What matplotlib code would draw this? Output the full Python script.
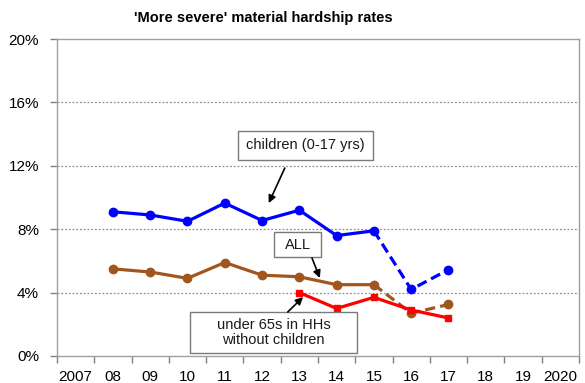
import matplotlib
matplotlib.use("Agg")
import matplotlib.pyplot as plt
from matplotlib.patches import Rectangle
import numpy as np

plt.rcParams['font.family'] = ['Liberation Sans', 'DejaVu Sans']

# Category axis: survey years
year_labels = ["2007", "08", "09", "10", "11", "12", "13", "14", "15", "16", "17", "18", "19", "2020"]

# 'More severe' material hardship rates (%)
children_years = ["08", "09", "10", "11", "12", "13", "14", "15", "16", "17"]
children = [9.1, 8.9, 8.5, 9.65, 8.55, 9.2, 7.6, 7.9, 4.2, 5.45]

all_years = ["08", "09", "10", "11", "12", "13", "14", "15", "16", "17"]
all_people = [5.5, 5.3, 4.9, 5.9, 5.1, 5.0, 4.5, 4.5, 2.7, 3.25]

u65_years = ["13", "14", "15", "16", "17"]
under65_no_kids = [4.0, 3.0, 3.7, 2.9, 2.4]

# the last two survey years are drawn dashed for the two long series
n_dashed = 2

pos = {lab: i for i, lab in enumerate(year_labels)}

fig = plt.figure(figsize=(5.85, 3.83), dpi=100)
ax = fig.add_axes([0.0974, 0.0705, 0.8923, 0.8275])

def plot_series(years, vals, color, marker, ms, dashed):
    x = np.array([pos[y] for y in years])
    v = np.array(vals)
    if dashed:
        k = len(x) - n_dashed
        ax.plot(x[:k], v[:k], color=color, lw=2.3, marker=marker, ms=ms, zorder=3)
        ax.plot(x[k - 1:], v[k - 1:], color=color, lw=2.3, ls=(0, (3.2, 1.6)),
                marker=None, zorder=3)
        ax.plot(x[k:], v[k:], color=color, lw=0, marker=marker, ms=ms, zorder=3)
    else:
        ax.plot(x, v, color=color, lw=2.3, marker=marker, ms=ms, zorder=3)

plot_series(children_years, children, "#0000FF", "o", 6, True)
plot_series(all_years, all_people, "#A0561E", "o", 6, True)
plot_series(u65_years, under65_no_kids, "#FF0000", "s", 4, False)

ax.set_xlim(-0.5, len(year_labels) - 0.5)
ax.set_ylim(0, 20)
ax.set_yticks([0, 4, 8, 12, 16, 20])
ax.set_yticklabels([f"{v}%" for v in [0, 4, 8, 12, 16, 20]])
ax.set_xticks(range(len(year_labels)))
ax.set_xticklabels(year_labels)
ax.set_xticks(np.arange(-0.5, len(year_labels) - 0.4, 1.0), minor=True)
ax.tick_params(axis='x', which='major', length=0, labelsize=11, pad=10, colors="#000000")
ax.tick_params(axis='x', which='minor', length=5, width=1, color="#808080", direction='out')
ax.tick_params(axis='y', length=5, width=1, color="#808080", labelsize=11, pad=8)

for v in [4, 8, 12, 16]:
    ax.axhline(v, color="#909090", lw=0.9, ls=(0, (1.5, 1.5)), zorder=1)

for s in ax.spines.values():
    s.set_color("#A0A0A0")
    s.set_linewidth(1.0)

fig.text(0.45, 0.953, "'More severe' material hardship rates", fontsize=10.5,
         fontweight='bold', ha="center", va="center")

# Label boxes (x0, y0, x1, y1 in data units) with their text
labels = [
    ("children (0-17 yrs)", (4.35, 12.37, 7.97, 14.2)),
    ("ALL", (5.32, 6.25, 6.58, 7.82)),
    ("under 65s in HHs\nwithout children", (3.07, 0.19, 7.54, 2.78)),
]
for text, (x0, y0, x1, y1) in labels:
    ax.add_patch(Rectangle((x0, y0), x1 - x0, y1 - y0, fc="white", ec="#7A7A7A",
                           lw=1.0, zorder=4))
    ax.text((x0 + x1) / 2, (y0 + y1) / 2, text, ha="center", va="center",
            fontsize=10.5, linespacing=1.1, color="#1A1A1A", zorder=5)

# Pointer arrows (tail, head) in data units
arrows = [
    ((5.61, 11.86), (5.18, 9.65)),
    ((6.34, 6.18), (6.55, 4.92)),
    ((5.69, 2.78), (6.10, 3.72)),
]
for tail, head in arrows:
    ax.annotate("", xy=head, xytext=tail,
                arrowprops=dict(arrowstyle="-|>", color="black", lw=1.2,
                                mutation_scale=11, shrinkA=0, shrinkB=0),
                zorder=5)

fig.savefig("out.png", dpi=100)
